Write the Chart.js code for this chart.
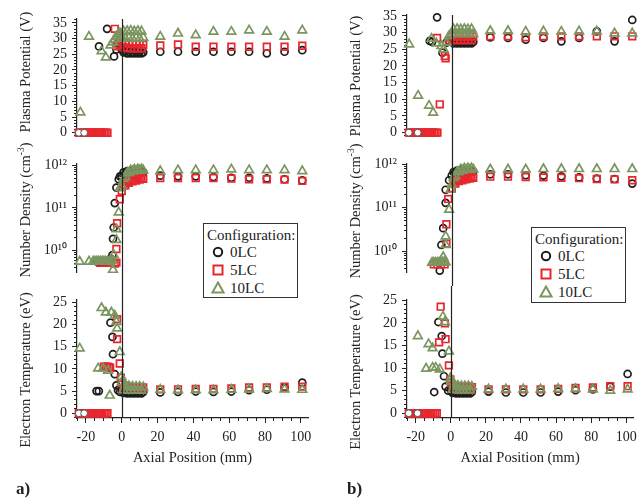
<!DOCTYPE html>
<html>
<head>
<meta charset="utf-8">
<script src="https://cdn.jsdelivr.net/npm/chart.js@4.4.1/dist/chart.umd.min.js"></script>
<style>
  body { margin: 0; background: #fff; }
  #wrap { position: relative; width: 643px; height: 498px; overflow: hidden; font-family: "Liberation Serif", "Times New Roman", serif; color: #222; }
  canvas { position: absolute; }
  .yt { position: absolute; white-space: nowrap; font-size: 14.5px; line-height: 1; transform: translate(-50%, -50%) rotate(-90deg); }
  .yt sup { font-size: 9.5px; vertical-align: 6px; line-height: 0; }
  .leg { position: absolute; box-sizing: border-box; border: 1.4px solid #333; background: #fff; font-size: 15px; }
  .leg div { position: absolute; white-space: nowrap; line-height: 1; transform: translateY(-50%); }
  .leg svg { position: absolute; }
  .tag { position: absolute; font-weight: bold; font-size: 17px; line-height: 1; }
</style>
</head>
<body>
<div id="wrap">
  <canvas id="cA1" width="320" height="150" style="left:0;top:0"></canvas>
  <canvas id="cA2" width="320" height="136" style="left:0;top:150px"></canvas>
  <canvas id="cA3" width="320" height="184" style="left:0;top:286px"></canvas>
  <canvas id="cB1" width="323" height="150" style="left:320px;top:0"></canvas>
  <canvas id="cB2" width="323" height="136" style="left:320px;top:150px"></canvas>
  <canvas id="cB3" width="323" height="184" style="left:320px;top:286px"></canvas>

  <div class="yt" style="left:25px;top:72px">Plasma Potential (V)</div>
  <div class="yt" style="left:25px;top:210px">Number Density (cm<sup>-3</sup>)</div>
  <div class="yt" style="left:25px;top:370px">Electron Temperature (eV)</div>
  <div class="yt" style="left:355px;top:76px">Plasma Potential (V)</div>
  <div class="yt" style="left:355px;top:211px">Number Density (cm<sup>-3</sup>)</div>
  <div class="yt" style="left:355px;top:372px">Electron Temperature (eV)</div>

  <div class="leg" style="left:203px;top:223px;width:95px;height:75px">
    <div style="left:3px;top:11px">Configuration:</div>
    <svg width="12" height="12" style="left:8px;top:22px"><circle cx="6" cy="6" r="4.2" fill="none" stroke="#1c1c1c" stroke-width="2"/></svg>
    <div style="left:26px;top:28px">0LC</div>
    <svg width="12" height="12" style="left:8px;top:40px"><rect x="1.5" y="1.5" width="9" height="9" fill="none" stroke="#e8262d" stroke-width="2"/></svg>
    <div style="left:26px;top:46px">5LC</div>
    <svg width="14" height="13" style="left:7px;top:57px"><polygon points="7,1.5 12.6,11.5 1.4,11.5" fill="none" stroke="#7b9660" stroke-width="2"/></svg>
    <div style="left:26px;top:64px">10LC</div>
  </div>
  <div class="leg" style="left:531px;top:227px;width:95px;height:76px">
    <div style="left:3px;top:11px">Configuration:</div>
    <svg width="12" height="12" style="left:8px;top:22px"><circle cx="6" cy="6" r="4.2" fill="none" stroke="#1c1c1c" stroke-width="2"/></svg>
    <div style="left:26px;top:28px">0LC</div>
    <svg width="12" height="12" style="left:8px;top:40px"><rect x="1.5" y="1.5" width="9" height="9" fill="none" stroke="#e8262d" stroke-width="2"/></svg>
    <div style="left:26px;top:46px">5LC</div>
    <svg width="14" height="13" style="left:7px;top:57px"><polygon points="7,1.5 12.6,11.5 1.4,11.5" fill="none" stroke="#7b9660" stroke-width="2"/></svg>
    <div style="left:26px;top:64px">10LC</div>
  </div>

  <div class="tag" style="left:16px;top:480px">a)</div>
  <div class="tag" style="left:347px;top:480px">b)</div>
</div>

<script>
// shared x positions (mm)
const xScan = [0, 1, 2, 3, 4, 5, 6, 7, 8, 9, 10, 11, 12];
const xFar = [21.5, 31.4, 41.3, 51.2, 61.2, 71.1, 81.0, 90.9, 100.8];
const xOff = [-24, -23, -22, -21, -20, -19, -18, -17, -16, -15, -14, -13, -12, -11, -10, -9, -8];
const yOff = [0, 0, 0, 0, 0, 0, 0, 0, 0, 0, 0, 0, 0, 0, 0, 0, 0];

// tick labels
const xMajorTicks = [-20, 0, 20, 40, 60, 80, 100];
const tpTicks = [0, 5, 10, 15, 20, 25, 30, 35];
const ndTicks = [1e10, 1e11, 1e12];
const teTicks = [0, 5, 10, 15, 20, 25];

// ---- a) plasma potential (V)
const aOffDots = [[-24, 0], [-21, 0]];
const aTpCNear = [[-12.7, 27.5], [-8.2, 33.1], [-4.3, 24.3], [-3, 26.5], [-2, 28.5], [-1, 30]];
const aTpCScan = [26.5, 25.6, 26.0, 25.3, 25.8, 25.3, 25.7, 25.3, 25.7, 25.3, 25.7, 25.3, 25.6];
const aTpCFar = [25.8, 25.8, 25.8, 25.8, 25.8, 25.8, 25.3, 25.8, 26.3];
const aTpSNear = [[-3.9, 33.1], [-3, 27.5], [-1.5, 28]];
const aTpSScan = [28.8, 27.2, 28.6, 27.0, 28.4, 26.9, 28.3, 26.9, 28.2, 26.9, 28.2, 26.9, 28.0];
const aTpSFar = [27.8, 28.1, 27.4, 27.4, 27.4, 27.4, 27.4, 27.4, 27.7];
const aTpTNear = [[-23.1, 6.5], [-18.3, 30.6], [-11.3, 26.0], [-8.9, 24.0], [-6.3, 27.8], [-5, 28.8], [-4, 29.8], [-3, 30.7], [-2, 31.3], [-1, 31.7]];
const aTpTScan = [30.3, 32.3, 30.0, 32.4, 30.2, 32.5, 30.0, 32.3, 30.2, 32.4, 30.0, 32.3, 30.3];
const aTpTFar = [30.6, 31.6, 31.1, 32.2, 32.2, 32.6, 32.2, 30.6, 32.6];

// ---- a) number density (cm^-3)
const aNdCNear = [[-14, 5.6e9], [-13, 5.6e9], [-12, 5.6e9], [-11, 5.6e9], [-10, 5.6e9], [-9, 5.6e9], [-8, 5.7e9], [-7, 6e9], [-6, 6.5e9], [-5.2, 7.9e9], [-4.9, 1.9e10], [-4.5, 3.5e10], [-3.9, 1.3e11], [-3, 3.0e11], [-1.7, 4.7e11], [-1, 5.5e11]];
const aNdCScan = [5.5e11, 6.8e11, 6.5e11, 7.3e11, 6.8e11, 7.4e11, 6.8e11, 7.4e11, 6.8e11, 7.4e11, 6.8e11, 7.4e11, 6.9e11];
const aNdCFar = [5.7e11, 5.5e11, 5.5e11, 5.3e11, 5.1e11, 5.1e11, 4.9e11, 4.7e11, 4.4e11];
const aNdSNear = [[-12, 5.2e9], [-10, 5.2e9], [-8, 5.2e9], [-6, 5.2e9], [-4, 5.0e9], [-3, 5.3e9], [-3, 1.1e10], [-2.6, 4.4e10], [-1.1, 1.6e11]];
const aNdSScan = [2.5e11, 3.4e11, 3.4e11, 4.1e11, 3.9e11, 4.5e11, 4.2e11, 4.7e11, 4.4e11, 4.9e11, 4.6e11, 5.0e11, 4.8e11];
const aNdSFar = [5.0e11, 5.0e11, 5.0e11, 5.0e11, 4.9e11, 4.7e11, 4.7e11, 4.6e11, 4.3e11];
const aNdTNear = [[-23.5, 5.6e9], [-18.3, 5.6e9], [-16, 5.6e9], [-15, 5.6e9], [-14, 5.6e9], [-13, 5.6e9], [-12, 5.6e9], [-11, 5.6e9], [-10, 5.6e9], [-9, 5.6e9], [-8, 5.6e9], [-7, 5.6e9], [-6, 5.8e9], [-5, 5.8e9], [-4.9, 3.6e9], [-4.5, 8e9], [-3, 1.8e10], [-3, 3.2e10], [-1.7, 7.9e10], [-1.1, 2.9e11]];
const aNdTScan = [3.3e11, 4.8e11, 5.3e11, 6.6e11, 6.6e11, 7.6e11, 7.2e11, 8.0e11, 7.4e11, 8.1e11, 7.5e11, 8.1e11, 7.6e11];
const aNdTFar = [7.3e11, 7.7e11, 7.7e11, 7.7e11, 8.0e11, 7.7e11, 7.7e11, 7.7e11, 7.3e11];

// ---- a) electron temperature (eV)
const aTeCNear = [[-14.1, 5.0], [-12.8, 5.0], [-6.3, 20.4], [-5.2, 17.2], [-4.9, 13.3], [-3.9, 8.8], [-3, 6.3], [-2.1, 5.2], [-1, 4.8]];
const aTeCScan = [5.2, 4.6, 4.9, 4.5, 4.8, 4.5, 4.8, 4.5, 4.8, 4.5, 4.8, 4.5, 4.8];
const aTeCFar = [4.7, 4.8, 4.9, 4.8, 4.9, 5.2, 5.3, 5.8, 6.9];
const aTeSNear = [[-10, 10.5], [-9, 10.5], [-8, 10.5], [-7, 10.4], [-6.5, 10.2], [-2.6, 21.2], [-2.6, 16.7], [-1.1, 11.2], [-0.5, 8.0]];
const aTeSScan = [6.8, 5.4, 6.2, 5.3, 6.0, 5.3, 5.9, 5.3, 5.9, 5.3, 5.9, 5.3, 5.8];
const aTeSFar = [5.4, 5.4, 5.5, 5.5, 5.6, 5.8, 5.8, 6.0, 6.0];
const aTeTNear = [[-23.5, 14.6], [-13.2, 10.1], [-11.3, 23.7], [-10.4, 10.1], [-8.9, 22.7], [-7.7, 9.6], [-6.7, 4.0], [-5.8, 22.7], [-3.9, 22.0], [-3, 20.6], [-2.6, 19.1], [-1.1, 13.8], [-0.2, 8.2]];
const aTeTScan = [7.0, 5.2, 6.4, 5.1, 6.1, 5.1, 6.0, 5.1, 6.0, 5.1, 6.0, 5.1, 5.9];
const aTeTFar = [5.3, 5.2, 5.2, 5.2, 5.3, 5.4, 5.5, 5.4, 5.3];

// ---- b) plasma potential (V)
const bOffDots = [[-24, 0], [-19, 0]];
const bTpCNear = [[-12.3, 27.5], [-11, 27.2], [-8.2, 34.6], [-5.2, 24.0], [-3, 27], [-1.5, 27.5]];
const bTpCScan = [27.5, 26.8, 27.3, 26.8, 27.2, 26.8, 27.2, 26.8, 27.2, 26.8, 27.2, 26.8, 27.2];
const bTpCFar = [28.6, 28.4, 27.9, 28.4, 27.4, 28.4, 30.4, 27.4, 33.8];
const bTpSNear = [[-8.2, 28.4], [-6.7, 8.5], [-3.9, 23.0], [-3.4, 22.3], [-1.5, 27.5]];
const bTpSScan = [29.0, 27.8, 28.9, 27.8, 28.8, 27.8, 28.8, 27.8, 28.8, 27.8, 28.8, 27.8, 28.8];
const bTpSFar = [28.9, 28.9, 28.6, 28.9, 28.9, 28.9, 28.9, 28.9, 28.9];
const bTpTNear = [[-23.8, 26.5], [-18.8, 11.1], [-12.7, 8.1], [-11.3, 28.2], [-10.4, 6.0], [-8.6, 26.8], [-5.8, 26.0], [-4.5, 25.0], [-3, 27], [-1.5, 29]];
const bTpTScan = [29.6, 31.0, 29.6, 31.1, 29.6, 31.0, 29.6, 31.1, 29.6, 31.0, 29.6, 31.1, 29.6];
const bTpTFar = [30.5, 30.5, 30.3, 30.4, 30.3, 30.4, 30.4, 29.8, 29.8];

// ---- b) number density (cm^-3)
const bNdCNear = [[-6.7, 3.6e9], [-5.8, 1.4e10], [-4.8, 3.4e10], [-3.4, 1.3e11], [-3.4, 2.6e11], [-1.5, 4.3e11]];
const bNdCScan = [5.5e11, 6.6e11, 6.6e11, 7.2e11, 6.9e11, 7.3e11, 6.9e11, 7.3e11, 6.9e11, 7.3e11, 6.9e11, 7.3e11, 6.9e11];
const bNdCFar = [5.9e11, 5.9e11, 5.6e11, 5.5e11, 5.3e11, 5.0e11, 4.7e11, 4.6e11, 3.6e11];
const bNdSNear = [[-10, 5.0e9], [-8, 5.0e9], [-6, 5.0e9], [-4, 5.0e9], [-3, 1.5e10], [-3, 4.2e10], [-2, 1.6e11]];
const bNdSScan = [2.8e11, 3.6e11, 3.6e11, 4.3e11, 4.1e11, 4.6e11, 4.3e11, 4.8e11, 4.5e11, 5.0e11, 4.7e11, 5.1e11, 4.9e11];
const bNdSFar = [5.2e11, 5.2e11, 5.1e11, 5.0e11, 4.9e11, 4.8e11, 4.6e11, 4.5e11, 4.3e11];
const bNdTNear = [[-11, 5.5e9], [-10, 5.5e9], [-9, 5.5e9], [-8, 5.5e9], [-7, 5.5e9], [-6, 5.5e9], [-5, 5.6e9], [-4, 5.6e9], [-3.5, 5.6e9], [-4.8, 7.4e9], [-3.4, 1.4e10], [-3.4, 2.2e10], [-1.5, 9.1e10], [-0.7, 2.6e11]];
const bNdTScan = [3.4e11, 4.9e11, 5.4e11, 6.7e11, 6.7e11, 7.6e11, 7.2e11, 8.0e11, 7.4e11, 8.1e11, 7.5e11, 8.1e11, 7.6e11];
const bNdTFar = [7.6e11, 7.6e11, 7.6e11, 7.8e11, 7.8e11, 7.8e11, 7.8e11, 7.8e11, 7.8e11];

// ---- b) electron temperature (eV)
const bTeCNear = [[-9.5, 4.7], [-7.1, 20.2], [-5.2, 17.1], [-4.8, 13.2], [-3.9, 8.2], [-3, 5.9], [-1.5, 5.0]];
const bTeCScan = [5.0, 4.5, 4.8, 4.4, 4.7, 4.4, 4.7, 4.4, 4.7, 4.4, 4.7, 4.4, 4.7];
const bTeCFar = [4.8, 4.6, 4.6, 4.6, 4.8, 5.1, 5.3, 5.9, 8.7];
const bTeSNear = [[-5.8, 23.6], [-6.7, 15.7], [-3.4, 19.9], [-3, 16.4], [-1.1, 10.6], [-0.3, 7.5]];
const bTeSScan = [6.8, 5.4, 6.2, 5.3, 6.0, 5.3, 5.9, 5.3, 5.9, 5.3, 5.9, 5.3, 5.8];
const bTeSFar = [5.3, 5.3, 5.3, 5.3, 5.4, 5.6, 5.7, 6.0, 6.0];
const bTeTNear = [[-18.8, 17.1], [-14.1, 9.9], [-12.7, 15.3], [-10.4, 14.4], [-10.4, 10.1], [-8.6, 10.1], [-6.3, 9.7], [-4.5, 21.4], [-3.4, 20.2], [-1.1, 13.7], [-0.2, 7.8]];
const bTeTScan = [7.0, 5.2, 6.4, 5.1, 6.1, 5.1, 6.0, 5.1, 6.0, 5.1, 6.0, 5.1, 5.9];
const bTeTFar = [5.3, 5.3, 5.3, 5.3, 5.4, 5.4, 5.3, 5.0, 5.3];

// ------------------------------------------------------------------
const INK = '#222';
Chart.defaults.font.family = '"Liberation Serif", "Times New Roman", serif';
Chart.defaults.color = INK;

const zeroRow = xOff.map((x, i) => [x, yOff[i]]);

function pairs(xs, ys) {
    return xs.map((x, i) => ({ x: x, y: ys[i] }));
}
function series(near, scan, far) {
    return near.map(p => ({ x: p[0], y: p[1] })).concat(pairs(xScan, scan), pairs(xFar, far));
}

const SUP = { '0': '\u2070', '1': '\u00b9', '2': '\u00b2', '3': '\u00b3' };
function sup(n) {
    return String(n).split('').map(c => SUP[c]).join('');
}

const STY = {
    dot: { pointStyle: 'circle', pointRadius: 3.4, pointBorderWidth: 1, pointBorderColor: '#555', pointBackgroundColor: '#fff', order: 0 },
    c: { pointStyle: 'circle', pointRadius: 3.5, pointBorderWidth: 1.7, pointBorderColor: '#1c1c1c', pointBackgroundColor: 'rgba(0,0,0,0)', order: 3 },
    s: { pointStyle: 'rect', pointRadius: 4.7, pointBorderWidth: 1.7, pointBorderColor: '#e8262d', pointBackgroundColor: 'rgba(0,0,0,0)', order: 2 },
    t: { pointStyle: 'triangle', pointRadius: 5, pointBorderWidth: 1.7, pointBorderColor: '#7b9660', pointBackgroundColor: 'rgba(0,0,0,0)', order: 1 }
};

function sets(off, c, s, t) {
    const list = [];
    if (off) list.push(Object.assign({ data: off.map(p => ({ x: p[0], y: p[1] })) }, STY.dot));
    list.push(Object.assign({ data: c }, STY.c), Object.assign({ data: s }, STY.s), Object.assign({ data: t }, STY.t));
    list.forEach(d => { d.xAxisID = 'x'; d.yAxisID = 'y'; d.showLine = false; d.clip = false; });
    return list;
}

// vertical line at x = 0 running through all three panels
const zeroLine = {
    id: 'zeroLine',
    afterDatasetsDraw(chart, args, opts) {
        const x = Math.round(chart.scales.x.getPixelForValue(0)) + 0.5;
        const a = chart.chartArea;
        const ctx = chart.ctx;
        ctx.save();
        ctx.strokeStyle = INK;
        ctx.lineWidth = 1.2;
        ctx.beginPath();
        ctx.moveTo(x, opts.up ? 0 : a.top);
        ctx.lineTo(x, opts.down ? chart.height : a.bottom);
        ctx.stroke();
        ctx.restore();
    }
};

function linMinor(min, max, step) {
    const out = [];
    for (let v = Math.ceil(min / step) * step; v <= max; v += step) out.push(v);
    return out;
}
function logMinor(min, max) {
    const out = [];
    for (let d = 9; d <= 12; d++) {
        for (let m = 1; m <= 9; m++) {
            const v = m * Math.pow(10, d);
            if (v >= min && v <= max) out.push(v);
        }
    }
    return out;
}

function yScales(type, min, max, major, width) {
    const minor = type === 'logarithmic' ? logMinor(min, max) : linMinor(min, max, 1);
    const fmt = type === 'logarithmic' ? (v => '10' + sup(Math.round(Math.log10(v)))) : (v => String(v));
    return {
        y: {
            type: type, position: 'left', min: min, max: max, weight: 1,
            afterBuildTicks: s => { s.ticks = major.map(v => ({ value: v })); },
            afterFit: s => { s.width = width; },
            ticks: { autoSkip: false, padding: 5, color: INK, font: { size: 14 }, callback: fmt },
            grid: { drawOnChartArea: false, tickLength: 5, tickColor: INK, tickWidth: 1 },
            border: { color: INK, width: 1.2 }
        },
        ym: {
            type: type, position: 'left', min: min, max: max, weight: 0,
            afterBuildTicks: s => { s.ticks = minor.map(v => ({ value: v })); },
            afterFit: s => { s.width = 0; },
            ticks: { display: false },
            grid: { drawOnChartArea: false, tickLength: 3, tickColor: INK, tickWidth: 1 },
            border: { display: false }
        }
    };
}

function xScales(bottom) {
    if (!bottom) return { x: { type: 'linear', min: -25, max: 104, display: false } };
    return {
        x: {
            type: 'linear', min: -25, max: 104, position: 'bottom', weight: 1,
            afterBuildTicks: s => { s.ticks = xMajorTicks.map(v => ({ value: v })); },
            afterFit: s => { s.height = 52; },
            ticks: { autoSkip: false, maxRotation: 0, padding: 6, color: INK, font: { size: 14 }, callback: v => String(v) },
            grid: { drawOnChartArea: false, tickLength: 5, tickColor: INK, tickWidth: 1 },
            border: { color: INK, width: 1.2 },
            title: { display: true, text: 'Axial Position (mm)', color: INK, font: { size: 14.5 }, padding: { top: 0, bottom: 3 } }
        },
        xm: {
            type: 'linear', min: -25, max: 104, position: 'bottom', weight: 0,
            afterBuildTicks: s => { s.ticks = linMinor(-25, 104, 5).map(v => ({ value: v })); },
            afterFit: s => { s.height = 0; },
            ticks: { display: false },
            grid: { drawOnChartArea: false, tickLength: 3, tickColor: INK, tickWidth: 1 },
            border: { display: false }
        }
    };
}

function panel(id, pad, ys, datasets, row) {
    new Chart(document.getElementById(id), {
        type: 'scatter',
        data: { datasets: datasets },
        options: {
            responsive: false,
            animation: false,
            events: [],
            layout: { autoPadding: false, padding: pad },
            scales: Object.assign(xScales(row === 'bot'), ys),
            plugins: {
                legend: { display: false },
                tooltip: { enabled: false },
                zeroLine: { up: row !== 'top', down: row !== 'bot' }
            }
        },
        plugins: [zeroLine]
    });
}

// a)
panel('cA1', { top: 19, bottom: 8, left: 0, right: 12 },
    yScales('linear', -1.22, 36.22, tpTicks, 77),
    sets(aOffDots, series(aTpCNear, aTpCScan, aTpCFar), series(zeroRow.concat(aTpSNear), aTpSScan, aTpSFar), series(aTpTNear, aTpTScan, aTpTFar)), 'top');
panel('cA2', { top: 6, bottom: 10, left: 0, right: 12 },
    yScales('logarithmic', 3.087e9, 1.103e12, ndTicks, 77),
    sets(null, series(aNdCNear, aNdCScan, aNdCFar), series(aNdSNear, aNdSScan, aNdSFar), series(aNdTNear, aNdTScan, aNdTFar)), 'mid');
panel('cA3', { top: 6, bottom: 0, left: 0, right: 12 },
    yScales('linear', -1.06, 25.64, teTicks, 77),
    sets(aOffDots, series(aTeCNear, aTeCScan, aTeCFar), series(zeroRow.concat(aTeSNear), aTeSScan, aTeSFar), series(aTeTNear, aTeTScan, aTeTFar)), 'bot');

// b)
panel('cB1', { top: 15, bottom: 11, left: 0, right: 5 },
    yScales('linear', -1.18, 35.29, tpTicks, 87),
    sets(bOffDots, series(bTpCNear, bTpCScan, bTpCFar), series(zeroRow.concat(bTpSNear), bTpSScan, bTpSFar), series(bTpTNear, bTpTScan, bTpTFar)), 'top');
panel('cB2', { top: 5, bottom: 13, left: 0, right: 5 },
    yScales('logarithmic', 3.24e9, 1.05e12, ndTicks, 87),
    sets(null, series(bNdCNear, bNdCScan, bNdCFar), series(bNdSNear, bNdSScan, bNdSFar), series(bNdTNear, bNdTScan, bNdTFar)), 'mid');
panel('cB3', { top: 5, bottom: 0, left: 0, right: 5 },
    yScales('linear', -1.05, 25.21, teTicks, 87),
    sets(bOffDots, series(bTeCNear, bTeCScan, bTeCFar), series(zeroRow.concat(bTeSNear), bTeSScan, bTeSFar), series(bTeTNear, bTeTScan, bTeTFar)), 'bot');
</script>
</body>
</html>
